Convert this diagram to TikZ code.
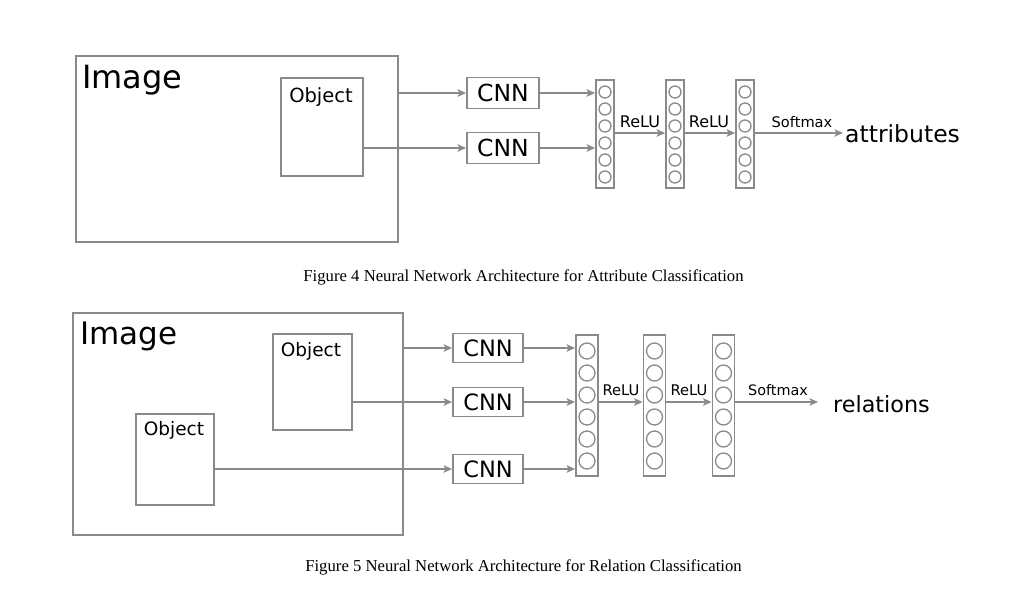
\documentclass[tikz,border=0pt]{standalone}
\usepackage{fontspec}
\setmainfont{Liberation Serif}
\newfontfamily\dv{DejaVu Sans}
\usetikzlibrary{arrows.meta}
\definecolor{lg}{RGB}{138,138,140}
\begin{document}
\begin{tikzpicture}[x=1pt,y=-1pt,
 box/.style={draw=lg, line width=1.8pt, inner sep=0pt},
 cnnbox/.style={box, font=\dv\fontsize{#1}{#1}\selectfont},
 neur/.style={draw=lg, line width=1.3pt, circle, inner sep=0pt, minimum size=#1},
 arr/.style={draw=lg, line width=1.8pt, -{Stealth[length=8.5pt,width=7.5pt,inset=2pt]}},
 lbl/.style={inner sep=0pt, font=\dv\fontsize{#1}{#1}\selectfont},
 figcaption/.style={inner sep=0pt, font=\fontsize{16.7}{20}\selectfont}]
\useasboundingbox (0,0) rectangle (1024,589);

% ---------------- Figure 4 ----------------
\node[box, anchor=north west, minimum width=322pt, minimum height=186pt] (img1) at (75,55) {};
\node[lbl=32, anchor=base west] (img1t) at (82,88) {Image};
\node[box, anchor=north west, minimum width=82pt, minimum height=98pt] (obj1) at (280,77) {};
\node[lbl=19.5, anchor=base] (obj1t) at (321,102) {Object};
\node[cnnbox=23.5, minimum width=72pt, minimum height=31pt] (c1) at (503,93) {CNN};
\node[cnnbox=23.5, minimum width=72pt, minimum height=31pt] (c2) at (503,148) {CNN};
\node[box, minimum width=18pt, minimum height=108pt] (la1) at (605,134) {};
\node[box, minimum width=18pt, minimum height=108pt] (la2) at (675,134) {};
\node[box, minimum width=18pt, minimum height=108pt] (la3) at (745,134) {};
\foreach \L/\X in {la1/605,la2/675,la3/745}{
  \foreach \i in {0,...,5}{
    \node[neur=12pt] (\L n\i) at (\X,{92+17*\i}) {};
  }
}
\draw[arr] (img1.east |- c1.west) -- (c1.west);
\draw[arr] (obj1.east |- c2.west) -- (c2.west);
\draw[arr] (c1.east) -- (c1.east -| la1.west);
\draw[arr] (c2.east) -- (c2.east -| la1.west);
\coordinate (r1) at (0,133);
\draw[arr] (la1.east |- r1) -- (la2.west |- r1);
\draw[arr] (la2.east |- r1) -- (la3.west |- r1);
\node[lbl=16, anchor=base] (relu1a) at (640,127) {ReLU};
\node[lbl=16, anchor=base] (relu1b) at (709,127) {ReLU};
\node[lbl=23.5, anchor=base west] (attr) at (845,142) {attributes};
\draw[arr, shorten >=2pt] (la3.east |- r1) -- (attr.west |- r1);
\node[lbl=14.6, anchor=base] (sm1) at (802,127) {Softmax};
\node[figcaption, anchor=base] (cap1) at (523.5,281) {Figure 4 Neural Network Architecture for Attribute Classification};

% ---------------- Figure 5 ----------------
\node[box, anchor=north west, minimum width=330pt, minimum height=222pt] (img2) at (72,312) {};
\node[lbl=31, anchor=base west] (img2t) at (80,344) {Image};
\node[box, anchor=north west, minimum width=79pt, minimum height=96pt] (obj2a) at (272,333) {};
\node[lbl=18.5, anchor=base] (obj2at) at (311,356) {Object};
\node[box, anchor=north west, minimum width=78pt, minimum height=91pt] (obj2b) at (135,413) {};
\node[lbl=18.5, anchor=base] (obj2bt) at (174,435) {Object};
\node[cnnbox=22.5, minimum width=70pt, minimum height=29pt] (d1) at (488,348) {CNN};
\node[cnnbox=22.5, minimum width=70pt, minimum height=29pt] (d2) at (488,402) {CNN};
\node[cnnbox=22.5, minimum width=70pt, minimum height=29pt] (d3) at (488,469) {CNN};
\node[box, minimum width=22pt, minimum height=141pt] (lb1) at (587,405.5) {};
\node[box, minimum width=22pt, minimum height=141pt] (lb2) at (654.5,405.5) {};
\node[box, minimum width=22pt, minimum height=141pt] (lb3) at (723.5,405.5) {};
\foreach \L/\X in {lb1/587,lb2/654.5,lb3/723.5}{
  \foreach \i in {0,...,5}{
    \node[neur=16pt] (\L n\i) at (\X,{351+22*\i}) {};
  }
}
\draw[arr] (img2.east |- d1.west) -- (d1.west);
\draw[arr] (obj2a.east |- d2.west) -- (d2.west);
\draw[arr] (obj2b.east |- d3.west) -- (d3.west);
\draw[arr] (d1.east) -- (d1.east -| lb1.west);
\draw[arr] (d2.east) -- (d2.east -| lb1.west);
\draw[arr] (d3.east) -- (d3.east -| lb1.west);
\coordinate (r2) at (0,402);
\draw[arr] (lb1.east |- r2) -- (lb2.west |- r2);
\draw[arr] (lb2.east |- r2) -- (lb3.west |- r2);
\node[lbl=14.7, anchor=base] (relu2a) at (621,395) {ReLU};
\node[lbl=14.7, anchor=base] (relu2b) at (689,395) {ReLU};
\node[lbl=22.3, anchor=base west] (rel) at (833,412) {relations};
\draw[arr, shorten >=15pt] (lb3.east |- r2) -- (rel.west |- r2);
\node[lbl=14.4, anchor=base] (sm2) at (778,395) {Softmax};
\node[figcaption, anchor=base] (cap2) at (523.5,571) {Figure 5 Neural Network Architecture for Relation Classification};
\end{tikzpicture}
\end{document}
